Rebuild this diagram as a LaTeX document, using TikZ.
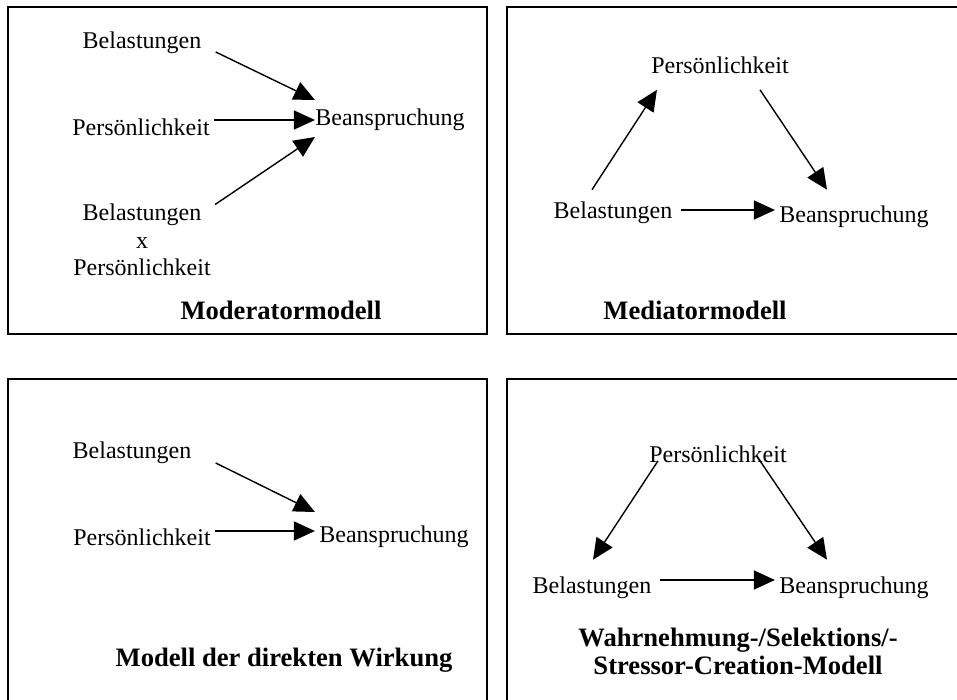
\documentclass[tikz,border=0pt]{standalone}
\usepackage{fontspec}
\setmainfont{Liberation Serif}
\usetikzlibrary{arrows.meta}

\begin{document}
\begin{tikzpicture}[
            x=0.5pt,y=-0.5pt,
            lbl/.style={
              inner sep=2pt,
              align=center,
              font=\fontsize{12pt}{13.8pt}\selectfont
            },
            ttl/.style={
              inner sep=2pt,
              align=center,
              font=\fontsize{13.3pt}{14pt}\selectfont\bfseries
            },
            arr/.style={
              line width=0.7pt,
              -{Triangle[length=10.5pt,width=9.5pt]}
            },
            frm/.style={
              draw,
              line width=0.9pt
            }
            ]
            \useasboundingbox (0,0) rectangle (957,700);
            \clip (0,0) rectangle (957,700);

            % Rahmen
            \draw[frm] (8,7) rectangle (487,334);
            \draw[frm] (507,7) rectangle (980,334);
            \draw[frm] (8,379) rectangle (487,720);
            \draw[frm] (507,379) rectangle (980,720);

            % Moderatormodell
            \node[lbl] (bel1) at (142,43) {Belastungen};
            \node[lbl] (per1) at (141,127) {Persönlichkeit};
            \node[lbl] (bean1) at (390,120) {Beanspruchung};
            \node[lbl] (belper1) at (142,240)
              {Belastungen\\x\\Persönlichkeit};
            \node[ttl] (mod1) at (281,310) {Moderatormodell};

            \draw[arr] ([xshift=5pt,yshift=-4.5pt]bel1.east) -- ([xshift=2pt,yshift=10pt]bean1.west);
            \draw[arr] (per1.east |- bean1.west) -- ([xshift=2pt]bean1.west);
            \draw[arr] ([yshift=-2.5pt]belper1.north east) -- ([xshift=2pt,yshift=-8.5pt]bean1.west);

            % Mediatormodell
            \node[lbl] (per2) at (720,65) {Persönlichkeit};
            \node[lbl] (bel2) at (613,213) {Belastungen};
            \node[lbl] (bean2) at (854,217) {Beanspruchung};
            \node[ttl] (med2) at (695,310) {Mediatormodell};

            \draw[arr] ([xshift=-10.5pt,yshift=4pt]bel2.north) -- ([xshift=5pt,yshift=-6pt]per2.south west);
            \draw[arr] ([xshift=20pt,yshift=-6pt]per2.south) -- ([xshift=-13.5pt,yshift=6pt]bean2.north);
            \draw[arr] ([xshift=2pt,yshift=1.5pt]bel2.east) -- ([yshift=3.5pt]bean2.west);

            % Modell der direkten Wirkung
            \node[lbl] (bel3) at (132,453) {Belastungen};
            \node[lbl] (per3) at (142,537) {Persönlichkeit};
            \node[lbl] (bean3) at (394,537) {Beanspruchung};
            \node[ttl] (dir3) at (284,660) {Modell der direkten Wirkung};

            \draw[arr] ([xshift=10pt,yshift=-5pt]bel3.east) -- ([yshift=12.5pt]bean3.west);
            \draw[arr] ([yshift=3pt]per3.east) -- ([yshift=3pt]bean3.west);

            % Wahrnehmung-/Selektions/-Stressor-Creation-Modell
            \node[lbl] (per4) at (718,454) {Persönlichkeit};
            \node[lbl] (bel4) at (592,588) {Belastungen};
            \node[lbl] (bean4) at (854,588) {Beanspruchung};
            \node[ttl] (sel4) at (738,651)
              {Wahrnehmung-/Selektions/-\\Stressor-Creation-Modell};

            \draw[arr] ([xshift=-30pt,yshift=3pt]per4.south) -- ([xshift=0.5pt,yshift=6.5pt]bel4.north);
            \draw[arr] ([xshift=21pt,yshift=3pt]per4.south) -- ([xshift=-13.5pt,yshift=6.5pt]bean4.north);
            \draw[arr] ([xshift=2pt,yshift=4pt]bel4.east) -- ([yshift=4pt]bean4.west);
\end{tikzpicture}
\end{document}
